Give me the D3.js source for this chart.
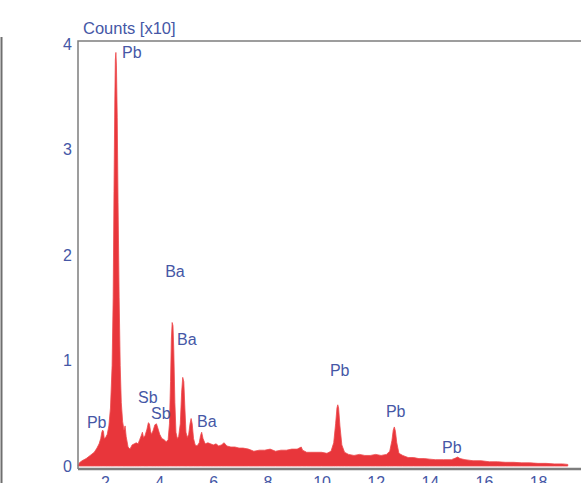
<!DOCTYPE html>
<html>
<head>
<meta charset="utf-8">
<script src="https://cdn.jsdelivr.net/npm/d3@7"></script>
<style>
  body { margin: 0; background: #fff; }
  svg { display: block; }
  text { font-family: "Liberation Sans", Arial, sans-serif; fill: #4557a6; }
</style>
</head>
<body>
<div id="chart"></div>
<script>
// spectrum, energy in keV and counts (x10)
const energy = [
  1.00, 1.05, 1.15, 1.30, 1.45, 1.60, 1.70, 1.78, 1.84, 1.88, 1.91, 1.94, 1.97,
  2.02, 2.08, 2.14, 2.20, 2.26, 2.30, 2.33, 2.36, 2.38, 2.40, 2.42, 2.45, 2.48,
  2.52, 2.56, 2.60, 2.65, 2.70, 2.74, 2.78, 2.85, 2.92, 3.00, 3.08, 3.15, 3.22,
  3.28, 3.34, 3.38, 3.42, 3.48, 3.55, 3.60, 3.64, 3.68, 3.72, 3.78, 3.84, 3.90,
  3.95, 4.02, 4.10, 4.18, 4.26, 4.33, 4.38, 4.42, 4.45, 4.48, 4.51, 4.54, 4.58,
  4.62, 4.67, 4.72, 4.78, 4.83, 4.87, 4.91, 4.95, 4.99, 5.04, 5.09, 5.14, 5.18,
  5.22, 5.27, 5.33, 5.40, 5.48, 5.53, 5.57, 5.62, 5.70, 5.80, 5.90, 6.00, 6.10,
  6.20, 6.30, 6.40, 6.50, 6.65, 6.80, 6.95, 7.10, 7.30, 7.50, 7.70, 7.90, 8.10,
  8.30, 8.50, 8.70, 8.90, 9.10, 9.25, 9.30, 9.45, 9.60, 9.80, 10.00, 10.20, 10.35,
  10.45, 10.52, 10.57, 10.60, 10.63, 10.68, 10.75, 10.85, 11.00, 11.20, 11.40,
  11.60, 11.80, 12.00, 12.20, 12.40, 12.52, 12.60, 12.65, 12.69, 12.73, 12.78,
  12.86, 13.00, 13.20, 13.40, 13.60, 13.80, 14.00, 14.20, 14.50, 14.80, 14.95,
  15.03, 15.12, 15.30, 15.60, 15.90, 16.20, 16.50, 16.80, 17.10, 17.40, 17.70,
  18.00, 18.30, 18.60, 18.90, 19.10
];
const counts = [
  0.00, 0.03, 0.05, 0.07, 0.10, 0.13, 0.17, 0.21, 0.26, 0.32, 0.34, 0.33, 0.26,
  0.27, 0.30, 0.38, 0.55, 0.95, 1.60, 2.60, 3.45, 3.85, 3.92, 3.80, 3.30, 2.50,
  1.60, 0.95, 0.60, 0.42, 0.34, 0.38, 0.28, 0.18, 0.16, 0.20, 0.21, 0.22, 0.21,
  0.25, 0.29, 0.32, 0.27, 0.29, 0.35, 0.41, 0.40, 0.33, 0.30, 0.34, 0.39, 0.40,
  0.36, 0.30, 0.26, 0.25, 0.23, 0.25, 0.40, 0.80, 1.20, 1.36, 1.33, 1.10, 0.60,
  0.32, 0.26, 0.28, 0.40, 0.70, 0.84, 0.80, 0.55, 0.32, 0.27, 0.30, 0.40, 0.45,
  0.40, 0.26, 0.20, 0.19, 0.22, 0.29, 0.32, 0.26, 0.21, 0.22, 0.21, 0.20, 0.21,
  0.19, 0.20, 0.22, 0.19, 0.18, 0.18, 0.17, 0.17, 0.16, 0.14, 0.15, 0.15, 0.16,
  0.14, 0.15, 0.15, 0.16, 0.16, 0.18, 0.15, 0.13, 0.13, 0.13, 0.13, 0.12, 0.14,
  0.22, 0.40, 0.55, 0.58, 0.55, 0.38, 0.20, 0.13, 0.11, 0.10, 0.11,
  0.10, 0.10, 0.11, 0.10, 0.11, 0.14, 0.24, 0.34, 0.37, 0.33, 0.22,
  0.12, 0.10, 0.08, 0.08, 0.07, 0.07, 0.065, 0.06, 0.06, 0.06, 0.075,
  0.085, 0.07, 0.06, 0.05, 0.05, 0.04, 0.04, 0.035, 0.035, 0.03, 0.03,
  0.025, 0.025, 0.02, 0.02, 0.015
];

// element labels placed at (energy, counts)
const labelText   = ["Pb", "Ba", "Ba", "Sb", "Sb", "Ba", "Pb", "Pb", "Pb", "Pb"];
const labelEnergy = [2.63, 4.22, 4.66, 3.22, 3.70, 5.40, 1.33, 10.31, 12.38, 14.45];
const labelCounts = [3.87, 1.79, 1.15, 0.60, 0.445, 0.37, 0.36, 0.85, 0.46, 0.12];

const yTicks = [0, 1, 2, 3, 4];
const xTicks = [2, 4, 6, 8, 10, 12, 14, 16, 18];

const width = 581, height = 483;
const frameLeft = 78, frameTop = 41, frameBottom = 469;

const svg = d3.select("#chart").append("svg")
  .attr("width", width)
  .attr("height", height);

const x = d3.scaleLinear().domain([1, 19]).range([78, 78 + 18 * 27.06]);
const y = d3.scaleLinear().domain([0, 4]).range([466, 44]);

const data = energy.map((e, i) => ({ e: e, c: counts[i] }));

// left edge of the window
svg.append("line")
  .attr("x1", 1.5).attr("x2", 1.5)
  .attr("y1", 37).attr("y2", height)
  .attr("stroke", "#6f6f6f").attr("stroke-width", 2);

// spectrum
svg.append("path")
  .datum(data)
  .attr("fill", "#e8363b")
  .attr("stroke", "#ee4a4c")
  .attr("stroke-width", 0.8)
  .attr("d", d3.area()
    .x(d => x(d.e))
    .y0(y(0))
    .y1(d => y(d.c)));

// frame
svg.append("path")
  .attr("d", `M${width},${frameTop}H${frameLeft}V${frameBottom}`)
  .attr("fill", "none")
  .attr("stroke", "#7d7d7d")
  .attr("stroke-width", 1.5);
svg.append("line")
  .attr("x1", frameLeft).attr("x2", width)
  .attr("y1", frameBottom).attr("y2", frameBottom)
  .attr("stroke", "#7d7d7d")
  .attr("stroke-width", 2.5);

// axes (labels only)
const yAxis = svg.append("g")
  .attr("transform", `translate(${frameLeft - 6},0)`)
  .call(d3.axisLeft(y).tickValues(yTicks).tickFormat(d3.format("d")).tickSize(0).tickPadding(0));
const xAxis = svg.append("g")
  .attr("transform", `translate(0,${frameBottom + 1})`)
  .call(d3.axisBottom(x).tickValues(xTicks).tickFormat(d3.format("d")).tickSize(0).tickPadding(7));
[yAxis, xAxis].forEach(g => {
  g.select(".domain").remove();
  g.selectAll("text")
    .attr("font-size", 16)
    .attr("font-family", "Liberation Sans, Arial, sans-serif")
    .attr("fill", "#4557a6");
});

svg.append("text")
  .attr("x", 83).attr("y", 34)
  .attr("font-size", 16.5)
  .text("Counts [x10]");

svg.selectAll(".elem")
  .data(labelText)
  .enter()
  .append("text")
  .attr("class", "elem")
  .attr("x", (d, i) => x(labelEnergy[i]))
  .attr("y", (d, i) => y(labelCounts[i]))
  .attr("font-size", 16)
  .text(d => d);
</script>
</body>
</html>
